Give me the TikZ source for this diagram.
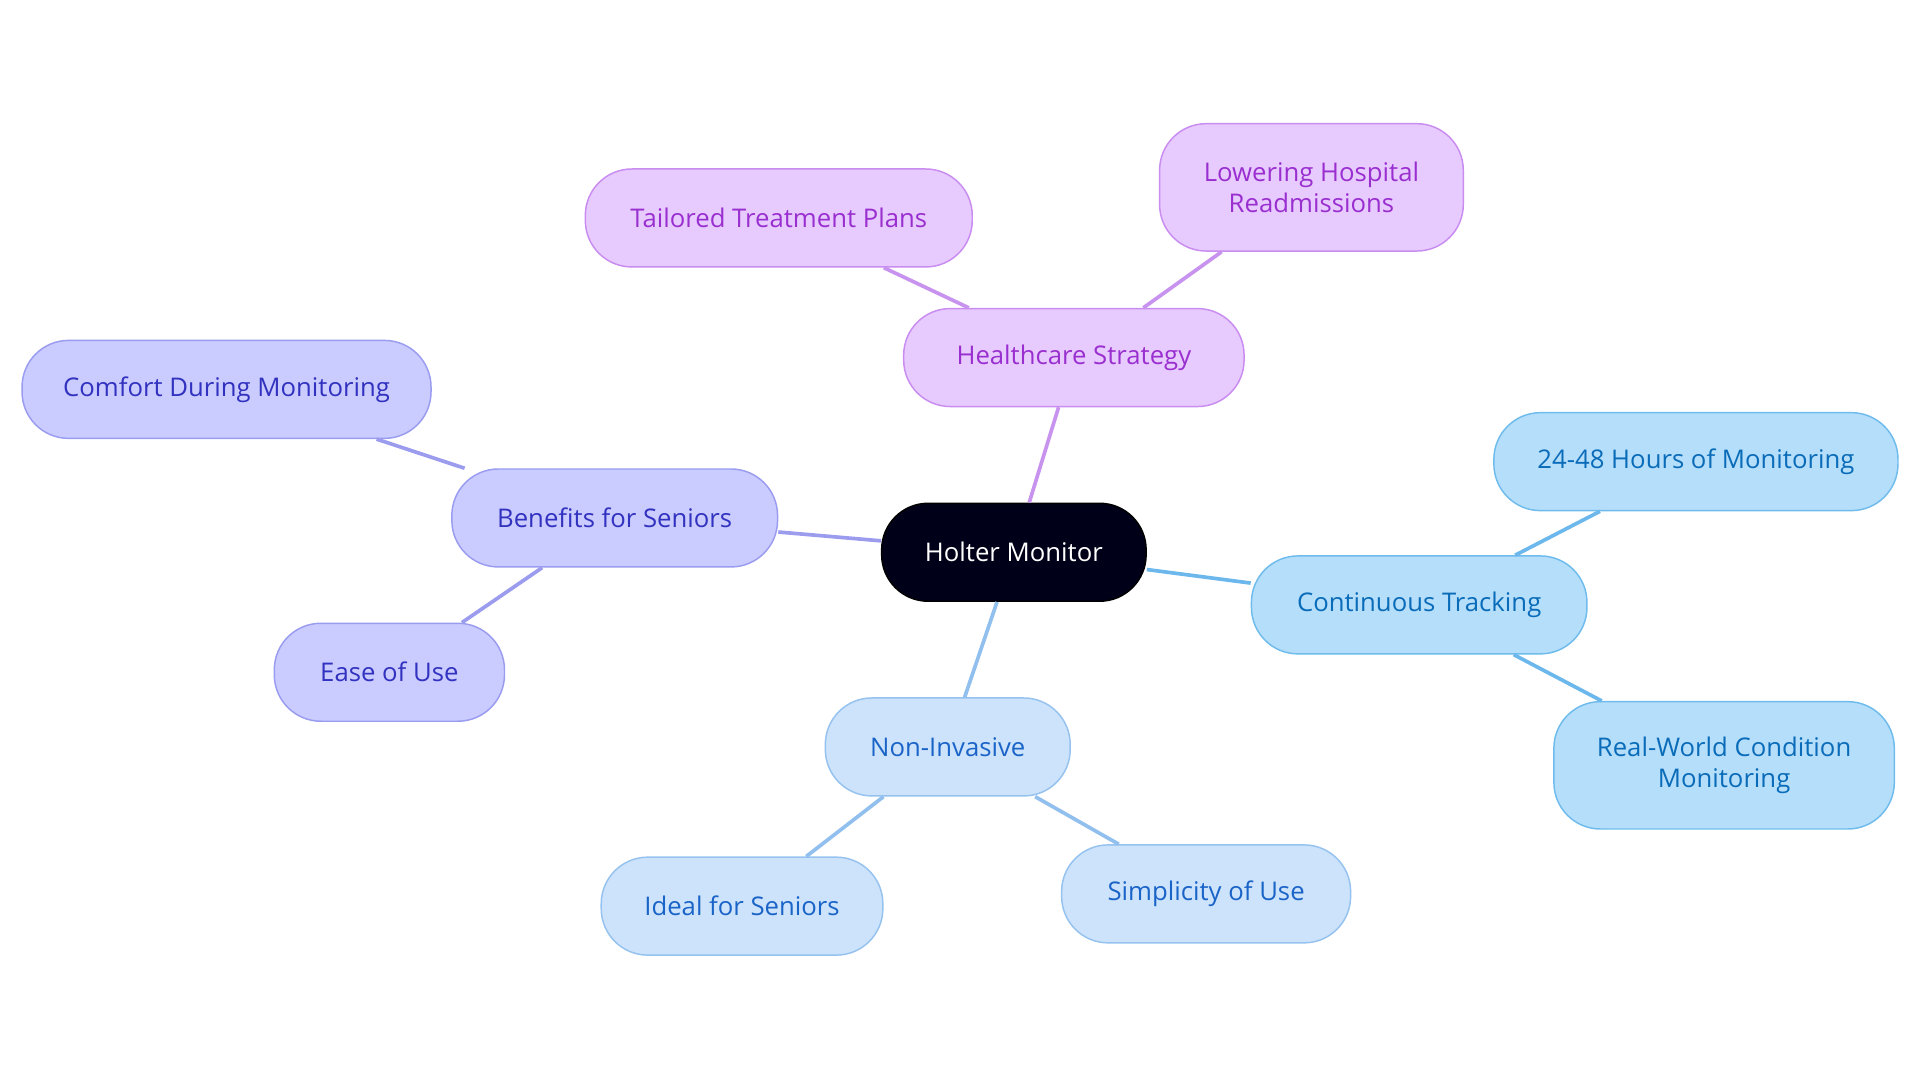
\documentclass[tikz,border=0pt]{standalone}
\usepackage{fontspec}
\setmainfont{Open Sans}
\begin{document}
\begin{tikzpicture}[x=0.5pt,y=-0.5pt,
  box/.style={rounded corners=19pt,draw,line width=0.6pt,align=center,inner sep=0pt,minimum height=40pt,font=\fontsize{10.5}{12.5}\selectfont},
  pur/.style={box,fill=purF,draw=purD,text=purT},
  ind/.style={box,fill=indF,draw=indD,text=indT},
  blu/.style={box,fill=bluF,draw=bluD,text=bluT},
  lbl/.style={box,fill=lblF,draw=lblD,text=lblT},
  e/.style={line width=1.5pt}]
\definecolor{purF}{HTML}{E8CBFE}\definecolor{purD}{HTML}{C98CF0}\definecolor{purT}{HTML}{9A2FD0}\definecolor{purE}{HTML}{C893EE}
\definecolor{indF}{HTML}{CACBFE}\definecolor{indD}{HTML}{9A9CF0}\definecolor{indT}{HTML}{3232C0}\definecolor{indE}{HTML}{9B9CEE}
\definecolor{bluF}{HTML}{B5DEFB}\definecolor{bluD}{HTML}{6FBCEC}\definecolor{bluT}{HTML}{0A6CB8}\definecolor{bluE}{HTML}{6CB8EC}
\definecolor{lblF}{HTML}{CDE3FB}\definecolor{lblD}{HTML}{95C2EE}\definecolor{lblT}{HTML}{1A64C8}\definecolor{lblE}{HTML}{92C0EE}
\useasboundingbox (0,0) rectangle (1568,884);
\node[box,fill=black!90!blue,draw=black,text=white,minimum width=108pt] (hm) at (828,451) {Holter Monitor};
\node[pur,minimum width=139pt] (hs) at (877,292) {Healthcare Strategy};
\node[pur,minimum width=158pt] (tt) at (636,178) {Tailored Treatment Plans};
\node[pur,minimum width=124pt,minimum height=52pt] (lh) at (1071,153) {Lowering Hospital\\Readmissions};
\node[ind,minimum width=133pt] (bs) at (502,423) {Benefits for Seniors};
\node[ind,minimum width=167pt] (cd) at (185,318) {Comfort During Monitoring};
\node[ind,minimum width=94pt] (eu) at (318,549) {Ease of Use};
\node[blu,minimum width=137pt] (ct) at (1159,494) {Continuous Tracking};
\node[blu,minimum width=165pt] (h4) at (1385,377) {24-48 Hours of Monitoring};
\node[blu,minimum width=139pt,minimum height=52pt] (rw) at (1408,625) {Real-World Condition\\Monitoring};
\node[lbl,minimum width=100pt] (ni) at (774,610) {Non-Invasive};
\node[lbl,minimum width=115pt] (is) at (606,740) {Ideal for Seniors};
\node[lbl,minimum width=118pt] (su) at (985,730) {Simplicity of Use};
\begin{scope}[on background layer/.code={}]
\end{scope}
\begin{pgfonlayer}{main}\end{pgfonlayer}
\draw[e,purE] (hm) -- (hs); \draw[e,purE] (hs) -- (tt); \draw[e,purE] (hs) -- (lh);
\draw[e,indE] (hm) -- (bs); \draw[e,indE] (bs) -- (cd); \draw[e,indE] (bs) -- (eu);
\draw[e,bluE] (hm) -- (ct); \draw[e,bluE] (ct) -- (h4); \draw[e,bluE] (ct) -- (rw);
\draw[e,lblE] (hm) -- (ni); \draw[e,lblE] (ni) -- (is); \draw[e,lblE] (ni) -- (su);
\end{tikzpicture}
\end{document}
